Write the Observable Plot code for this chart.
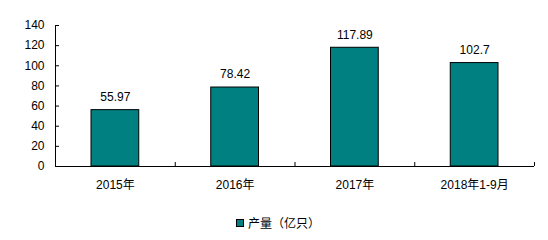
<!DOCTYPE html>
<html>
<head>
<meta charset="utf-8">
<script src="https://cdn.jsdelivr.net/npm/d3@7"></script>
<script src="https://cdn.jsdelivr.net/npm/@observablehq/plot@0.6"></script>
<style>
  html, body { margin: 0; padding: 0; background: #fff; }
  body { width: 548px; height: 240px; position: relative; overflow: hidden;
         font-family: "Liberation Sans", Arial, "Noto Sans CJK SC", sans-serif; }
  #chart { position: absolute; left: 0; top: 0; }
  #legend { position: absolute; left: 0; top: 214px; width: 548px; display: flex;
            justify-content: center; align-items: center; font-size: 12px; color: #000; padding-left: 8px; box-sizing: border-box; }
  #legend .sw { width: 6px; height: 6px; background: #008080; border: 1px solid #000; margin-right: 4px; }
  #legend span { font-family: "Noto Sans CJK SC", sans-serif; }
</style>
</head>
<body>
<div id="chart"></div>
<div id="legend"><div class="sw"></div><span>产量（亿只）</span></div>
<script>
const categories = ["2015年", "2016年", "2017年", "2018年1-9月"];
const values = [55.97, 78.42, 117.89, 102.7];
const valueLabels = ["55.97", "78.42", "117.89", "102.7"];
const yTicks = [0, 20, 40, 60, 80, 100, 120, 140];
const seriesName = "产量（亿只）";

const data = categories.map((c, i) => ({category: c, i, value: values[i], label: valueLabels[i]}));
const boundaries = d3.range(categories.length + 1);
const centers = categories.map((c, i) => i + 0.5);

const chart = Plot.plot({
  width: 548,
  height: 200,
  marginLeft: 55,
  marginRight: 14,
  marginTop: 25,
  marginBottom: 34,
  x: {domain: [0, categories.length], axis: null},
  y: {domain: [0, 140], axis: null},
  style: {fontFamily: "'Liberation Sans', Arial, 'Noto Sans CJK SC', sans-serif", fontSize: "12px", color: "#000", background: "#fff"},
  marks: [
    Plot.rectY(data, {x1: "i", x2: d => d.i + 1, y: "value", insetLeft: 36, insetRight: 36,
      fill: "#008080", stroke: "#000", strokeWidth: 1}),
    Plot.text(data, {x: d => d.i + 0.5, y: "value", text: "label", dy: -13, fill: "#000", fontSize: 12}),
    Plot.ruleY([0], {stroke: "#000"}),
    Plot.ruleX([0], {stroke: "#000"}),
    Plot.axisY({ticks: yTicks, tickSize: -4, tickPadding: 15, label: null, tickFormat: d => String(d), stroke: "#000", fill: "#000", fontSize: 12}),
    Plot.axisX({ticks: boundaries, tickSize: -4, label: null, tickFormat: () => "", stroke: "#000"}),
    Plot.axisX({ticks: centers, tickSize: 0, tickPadding: 14, label: null, tickFormat: d => categories[Math.floor(d)], fill: "#000", fontSize: 12})
  ]
});
document.getElementById("chart").appendChild(chart);
</script>
</body>
</html>
